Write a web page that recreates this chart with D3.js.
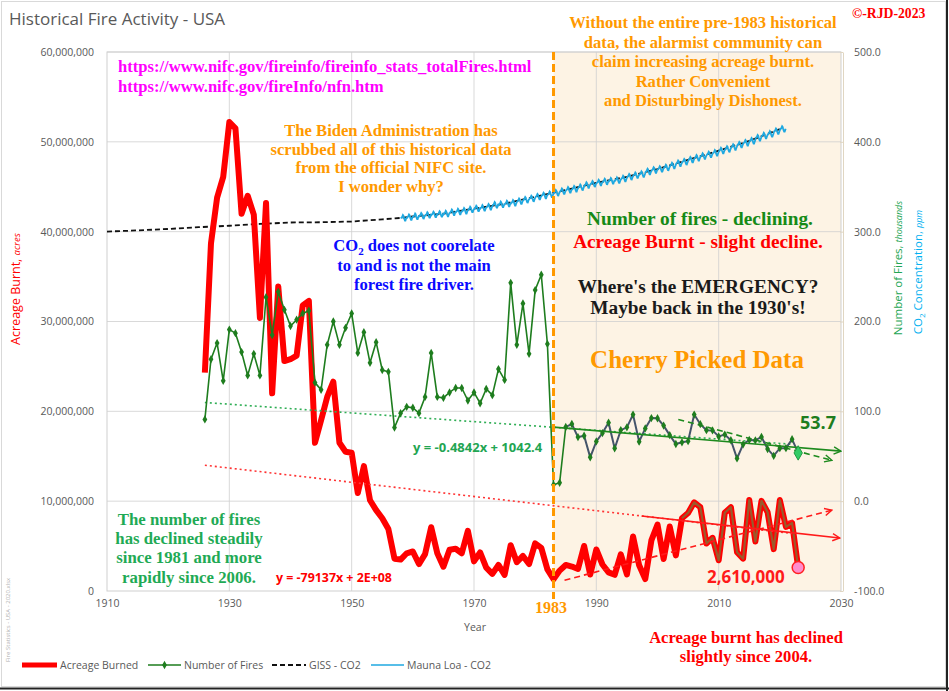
<!DOCTYPE html>
<meta charset="utf-8">
<head>
<style>
  body { margin: 0; background: #fff; }
  svg text { font-family: "Open Sans", "Noto Sans", sans-serif; }
  .tick text { fill: #595959; font-size: 10.5px; }
  .serif { font-family: "Liberation Serif", "Times New Roman", serif !important; font-weight: bold; }
</style>
</head>
<body>
<script src="https://d3js.org/d3.v7.min.js"></script>
<script>

var years = d3.range(1926, 2024);   // 1926 .. 2023

// acreage burned, millions of acres
var acresM = [
  24.3, 38.7, 43.8, 46.1, 52.2, 51.5, 42.0, 44.0, 41.9, 30.4,
  43.2, 22.0, 33.9, 25.6, 25.8, 26.2, 31.8, 32.3, 16.5, 19.0,
  21.6, 23.3, 16.5, 15.5, 15.4, 10.9, 13.9, 10.1, 9.0, 8.1,
  6.9, 3.6, 3.5, 4.2, 4.4, 3.0, 4.1, 7.1, 4.2, 2.7,
  4.6, 4.7, 4.2, 6.7, 3.3, 4.3, 2.6, 1.9, 2.9, 1.8,
  5.1, 3.2, 3.9, 3.0, 5.3, 4.8, 2.4,
  1.32, 2.27, 2.90, 2.72, 2.45, 5.01, 1.83, 4.62, 2.95, 2.07,
  1.80, 4.07, 1.84, 6.07, 2.86, 1.33, 5.63, 7.39, 3.57, 7.18,
  3.96, 8.10, 8.69, 9.87, 9.33, 5.29, 5.92, 3.42, 8.71, 9.33,
  4.32, 3.60, 10.13, 5.51, 10.03, 8.77, 4.66, 10.12, 7.13, 7.58,
  2.61
];

// number of fires, thousands
var firesK = [
  91, 158, 176, 134, 191, 187, 166, 140, 164, 140,
  227, 185, 233, 213, 195, 202, 209, 212, 132, 124,
  174, 200, 174, 193, 209, 165, 188, 154, 177, 146,
  144, 82, 98, 105, 104, 98, 116, 165, 116, 115,
  121, 126, 126, 112, 121, 109, 125, 118, 147, 135,
  243, 174, 220, 164, 235, 252, 175,
  18.2, 20.5, 82.6, 85.9, 71.3, 72.8, 48.9, 66.5, 75.8, 87.4,
  58.8, 79.1, 82.2, 96.4, 66.2, 81.0, 92.5, 92.3, 84.1, 73.5,
  63.6, 65.5, 66.8, 96.4, 85.7, 79.0, 78.8, 72.0, 74.1, 67.8,
  47.6, 63.3, 68.2, 67.7, 71.5, 58.1, 50.5, 59.0, 59.0, 69.0,
  53.7
];

// GISS CO2, ppm
var gissYears = [1910, 1915, 1920, 1925, 1930, 1935, 1940, 1945, 1950, 1955, 1958, 1960,
  1965, 1970, 1975, 1980, 1985, 1990, 1995, 2000, 2005, 2010, 2015, 2020];
var gissCO2 = [300.1, 301.4, 303.0, 305.0, 306.6, 308.6, 310.2, 310.5, 311.3, 313.7, 315.3, 316.9,
  320.0, 325.7, 331.1, 338.8, 346.4, 354.4, 361.0, 369.7, 380.0, 390.1, 401.0, 414.2];

// Mauna Loa CO2: annual means 1958..2020 and mean seasonal offsets (Jan..Dec)
var mlYears = d3.range(1958, 2021);
var mlAnnual = [315.3, 316.0, 316.9, 317.6, 318.5, 319.0, 319.6, 320.0, 321.4, 322.2,
  323.1, 324.6, 325.7, 326.3, 327.5, 329.7, 330.2, 331.1, 332.0, 333.8,
  335.4, 336.8, 338.8, 340.1, 341.5, 343.2, 344.9, 346.4, 347.6, 349.3,
  351.7, 353.2, 354.5, 355.7, 356.5, 357.2, 359.0, 361.0, 362.7, 363.9,
  366.8, 368.5, 369.7, 371.3, 373.5, 376.0, 377.7, 380.0, 382.1, 384.0,
  385.8, 387.6, 390.1, 391.9, 394.1, 396.7, 398.8, 401.0, 404.4, 406.8,
  408.7, 411.7, 414.2];
var mlSeason = [-0.61, 0.31, 0.53, 1.88, 3.22, 2.48, 0.33, -1.49, -2.90, -2.91, -1.17, 0.32];

// trend equations shown on the chart
var fireTrend = {slope: -0.4842, icpt: 1042.4, from: 1926, to: 2022};
var acreTrend = {slope: -79137, icpt: 1.6642e8, from: 1926, to: 2022};

// hand-drawn arrows (year, value)
var fireArrow = [[1983, 82.4], [2030, 55.7]];
var fireArrowDash = [[2003.4, 91], [2028.5, 45.5]];
var acreArrow = [[1997.4, 8.35e6], [2029.8, 5.9e6]];
var acreArrowDash = [[1984.8, 1.2e6], [2028.5, 9.0e6]];

// ---------- layout ----------
var W = 949, H = 691;
var plot = {left: 107, right: 841, top: 52, bottom: 591};

var x = d3.scaleLinear().domain([1910, 2030]).range([plot.left, plot.right]);
var yL = d3.scaleLinear().domain([0, 60e6]).range([plot.bottom, plot.top]);
var yR = d3.scaleLinear().domain([-100, 500]).range([plot.bottom, plot.top]);

var svg = d3.select("body").append("svg")
    .attr("width", W)
    .attr("height", H);

svg.append("rect").attr("width", W).attr("height", H).attr("fill", "#fff");
svg.append("rect")
    .attr("x", 1.5).attr("y", 1.5).attr("width", W - 5).attr("height", H - 6)
    .attr("fill", "none").attr("stroke", "#d9d9d9");
// dark shadow edges
svg.append("line").attr("x1", 0).attr("x2", W).attr("y1", H - 2.5).attr("y2", H - 2.5)
    .attr("stroke", "#222").attr("stroke-width", 2);
svg.append("line").attr("x1", W - 2).attr("x2", W - 2).attr("y1", 0).attr("y2", H)
    .attr("stroke", "#222").attr("stroke-width", 2);

var defs = svg.append("defs");
function arrowMarker(id, color) {
  defs.append("marker")
      .attr("id", id)
      .attr("viewBox", "0 0 10 10")
      .attr("refX", 9).attr("refY", 5)
      .attr("markerWidth", 9).attr("markerHeight", 9)
      .attr("markerUnits", "userSpaceOnUse")
      .attr("orient", "auto")
    .append("path")
      .attr("d", "M1,1 L9,5 L1,9")
      .attr("fill", "none")
      .attr("stroke", color)
      .attr("stroke-width", 1.6);
}
arrowMarker("arrGreen", "#1e8a1e");
arrowMarker("arrRed", "#ff1a1a");

// shaded post-1983 region
svg.append("rect")
    .attr("x", x(1983)).attr("y", plot.top)
    .attr("width", x(2030) - x(1983)).attr("height", plot.bottom - plot.top)
    .attr("fill", "#fdf3e4");

// gridlines
var grid = svg.append("g").attr("stroke", "#d0d0d0").attr("stroke-opacity", 0.8);
d3.range(10e6, 60e6 + 1, 10e6).forEach(function(v) {
  grid.append("line").attr("x1", plot.left).attr("x2", plot.right)
      .attr("y1", yL(v)).attr("y2", yL(v));
});
[1930, 1950, 1970, 1990, 2010].forEach(function(v) {
  grid.append("line").attr("y1", plot.top).attr("y2", plot.bottom)
      .attr("x1", x(v)).attr("x2", x(v));
});
svg.append("rect")
    .attr("x", plot.left).attr("y", plot.top)
    .attr("width", plot.right - plot.left).attr("height", plot.bottom - plot.top)
    .attr("fill", "none").attr("stroke", "#cfcfcf");

// axes
var axL = svg.append("g")
    .attr("transform", "translate(" + plot.left + ",0)")
    .call(d3.axisLeft(yL).tickValues(d3.range(0, 60e6 + 1, 10e6))
      .tickFormat(d3.format(",")).tickSize(0).tickPadding(13));
axL.select(".domain").remove();

var axR = svg.append("g")
    .attr("transform", "translate(" + (plot.right + 2) + ",0)")
    .call(d3.axisRight(yR).tickValues(d3.range(-100, 501, 100))
      .tickFormat(function(d) { return d.toFixed(1); }).tickSizeInner(-3).tickSizeOuter(0).tickPadding(11));
axR.select(".domain").attr("stroke", "#e0d6c2");
axR.selectAll(".tick line").attr("stroke", "#e0d6c2");

var axB = svg.append("g")
    .attr("transform", "translate(0," + plot.bottom + ")")
    .call(d3.axisBottom(x).tickValues([1910, 1930, 1950, 1970, 1990, 2010, 2030])
      .tickFormat(d3.format("d")).tickSize(0).tickPadding(9));
axB.select(".domain").remove();

svg.append("text")
    .attr("x", 475).attr("y", 631)
    .attr("text-anchor", "middle")
    .attr("fill", "#595959").attr("font-size", 10.5)
    .text("Year");

// ---------- series ----------
// GISS CO2
svg.append("path")
    .datum(gissYears.map(function(d, i) { return [d, gissCO2[i]]; }))
    .attr("fill", "none").attr("stroke", "#111").attr("stroke-width", 1.8)
    .attr("stroke-dasharray", "5,3")
    .attr("d", d3.line().x(function(d) { return x(d[0]); }).y(function(d) { return yR(d[1]); }));

// Mauna Loa CO2, monthly
var mlPts = [];
mlYears.forEach(function(yr, i) {
  mlSeason.forEach(function(s, m) {
    mlPts.push([yr + (m + 0.5) / 12, mlAnnual[i] + s]);
  });
});
svg.append("path")
    .datum(mlPts)
    .attr("fill", "none").attr("stroke", "#1fa8e0").attr("stroke-width", 1.8)
    .attr("d", d3.line().x(function(d) { return x(d[0]); }).y(function(d) { return yR(d[1]); }));

// Acreage burned
var acreData = years.map(function(d, i) { return {year: d, v: acresM[i] * 1e6}; });
var acreLine = d3.line().x(function(d) { return x(d.year); }).y(function(d) { return yL(d.v); });
svg.append("path")
    .datum(acreData)
    .attr("fill", "none").attr("stroke", "#ff0000").attr("stroke-width", 6)
    .attr("stroke-linejoin", "round")
    .attr("d", acreLine);
svg.append("path")
    .datum(acreData.filter(function(d) { return d.year >= 2004; }))
    .attr("fill", "none").attr("stroke", "#9a5a2c").attr("stroke-width", 2.2)
    .attr("stroke-linejoin", "round")
    .attr("d", acreLine);

// trend lines (dotted)
function trendPts(t) { return [t.from, t.to].map(function(yr) { return [yr, t.slope * yr + t.icpt]; }); }
svg.append("path")
    .datum(trendPts(acreTrend))
    .attr("fill", "none").attr("stroke", "#ff3333").attr("stroke-width", 1.6)
    .attr("stroke-dasharray", "2,3")
    .attr("d", d3.line().x(function(d) { return x(d[0]); }).y(function(d) { return yL(d[1]); }));
svg.append("path")
    .datum(trendPts(fireTrend))
    .attr("fill", "none").attr("stroke", "#2fae55").attr("stroke-width", 1.6)
    .attr("stroke-dasharray", "2,3")
    .attr("d", d3.line().x(function(d) { return x(d[0]); }).y(function(d) { return yR(d[1]); }));

// Number of fires
var fireData = years.map(function(d, i) { return {year: d, v: firesK[i]}; });
var fireLine = d3.line().x(function(d) { return x(d.year); }).y(function(d) { return yR(d.v); });
svg.append("path")
    .datum(fireData.filter(function(d) { return d.year <= 1985; }))
    .attr("fill", "none").attr("stroke", "#1e7d1e").attr("stroke-width", 1.6)
    .attr("d", fireLine);
svg.append("path")
    .datum(fireData.filter(function(d) { return d.year >= 1985; }))
    .attr("fill", "none").attr("stroke", "#44546a").attr("stroke-width", 2)
    .attr("d", fireLine);

// arrows
function arrow(pts, yS, color, marker, dash) {
  svg.append("path")
      .datum(pts)
      .attr("fill", "none").attr("stroke", color).attr("stroke-width", 1.6)
      .attr("stroke-dasharray", dash || null)
      .attr("marker-end", "url(#" + marker + ")")
      .attr("d", d3.line().x(function(d) { return x(d[0]); }).y(function(d) { return yS(d[1]); }));
}
arrow(fireArrow, yR, "#1e8a1e", "arrGreen");
arrow(fireArrowDash, yR, "#1e8a1e", "arrGreen", "6,4");
arrow(acreArrow, yL, "#ff1a1a", "arrRed");
arrow(acreArrowDash, yL, "#ff1a1a", "arrRed", "6,4");

svg.selectAll(".fireDot")
    .data(fireData.filter(function(d) { return d.year < 2023; }))
    .enter().append("path")
    .attr("class", "fireDot")
    .attr("transform", function(d) { return "translate(" + x(d.year) + "," + yR(d.v) + ")"; })
    .attr("d", d3.symbol().type(d3.symbolDiamond).size(20))
    .attr("fill", "#1e7d1e");

// 2023 highlights
var last = years.length - 1;
svg.append("path")
    .attr("transform", "translate(" + x(years[last]) + "," + yR(firesK[last]) + ")")
    .attr("d", d3.symbol().type(d3.symbolDiamond).size(60))
    .attr("fill", "#33cc66").attr("stroke", "#1e9a40");
svg.append("circle")
    .attr("cx", x(years[last])).attr("cy", yL(acresM[last] * 1e6)).attr("r", 6)
    .attr("fill", "#ff8ccc").attr("stroke", "#ff2020").attr("stroke-width", 1.5);

// 1983 divider
svg.append("line")
    .attr("x1", x(1983)).attr("x2", x(1983))
    .attr("y1", plot.top).attr("y2", plot.bottom + 8)
    .attr("stroke", "#ff9900").attr("stroke-width", 3)
    .attr("stroke-dasharray", "8,4");

// ---------- texts ----------
function block(lines, cx, y0, dy, size, color, anchor, serif) {
  var t = svg.append("text")
      .attr("text-anchor", anchor || "middle")
      .attr("font-size", size)
      .attr("fill", color);
  if (serif !== false) t.attr("class", "serif");
  lines.forEach(function(s, i) {
    t.append("tspan").attr("x", cx).attr("y", y0 + i * dy).text(s);
  });
  return t;
}

svg.append("text")
    .attr("x", 9).attr("y", 25)
    .attr("fill", "#595959").attr("font-size", 17)
    .text("Historical Fire Activity - USA");

block(["©-RJD-2023"], 852, 18, 0, 13.7, "#ff0000", "start");

block(["https://www.nifc.gov/fireinfo/fireinfo_stats_totalFires.html",
       "https://www.nifc.gov/fireInfo/nfn.htm"], 118, 72, 20, 16.6, "#ff00ff", "start");

block(["The Biden Administration has", "scrubbed all of this historical data",
       "from the official NIFC site.", "I wonder why?"], 391, 136, 18.7, 16.6, "#ff9900");

block(["Without the entire pre-1983 historical", "data, the alarmist community can",
       "claim increasing acreage burnt.", "Rather Convenient",
       "and Disturbingly Dishonest."], 703, 28, 19.5, 16.6, "#ff9900");

var co2 = svg.append("text").attr("class", "serif").attr("text-anchor", "middle")
    .attr("font-size", 16.6).attr("fill", "#0a0aff");
var l1 = co2.append("tspan").attr("x", 414).attr("y", 251);
l1.append("tspan").text("CO");
l1.append("tspan").attr("font-size", 11).attr("dy", 4).text("2");
l1.append("tspan").attr("dy", -4).text(" does not coorelate");
co2.append("tspan").attr("x", 414).attr("y", 271).text("to and is not the main");
co2.append("tspan").attr("x", 414).attr("y", 290).text("forest fire driver.");

block(["Number of fires - declining."], 700, 225, 0, 19.3, "#168a16");
block(["Acreage Burnt - slight decline."], 698, 248, 0, 19.3, "#ff0000");
block(["Where's the EMERGENCY?", "Maybe back in the 1930's!"], 698, 293, 21, 19.3, "#1a1a1a");
block(["Cherry Picked Data"], 697, 368, 0, 25, "#ff9900");

block(["53.7"], 800, 429, 0, 18, "#1e7d1e", "start", false).attr("font-weight", "bold");
block(["y = -0.4842x + 1042.4"], 413, 452, 0, 13, "#22a552", "start", false).attr("font-weight", "bold");
block(["y = -79137x + 2E+08"], 276, 582, 0, 12.4, "#ff0000", "start", false).attr("font-weight", "bold");
block(["2,610,000"], 707, 583, 0, 17, "#ff1a1a", "start", false).attr("font-weight", "bold");

block(["The number of fires", "has declined steadily", "since 1981 and more",
       "rapidly since 2006."], 189, 525, 19.2, 16.8, "#1faa55");

block(["1983"], 551, 613, 0, 16, "#ff9900");
block(["Acreage burnt has declined", "slightly since 2004."], 746, 643, 19, 16.6, "#ff0000");

// axis titles
var tl = svg.append("text")
    .attr("transform", "translate(20,289) rotate(-90)")
    .attr("text-anchor", "middle").attr("fill", "#ff0000").attr("font-size", 12.5);
tl.append("tspan").text("Acreage Burnt, ");
tl.append("tspan").attr("font-style", "italic").attr("font-size", 9.5).text("acres");

var tr1 = svg.append("text")
    .attr("transform", "translate(902,268) rotate(-90)")
    .attr("text-anchor", "middle").attr("fill", "#22a552").attr("font-size", 11.5);
tr1.append("tspan").text("Number of Fires, ");
tr1.append("tspan").attr("font-style", "italic").attr("font-size", 9).text("thousands");

var tr2 = svg.append("text")
    .attr("transform", "translate(922,272) rotate(-90)")
    .attr("text-anchor", "middle").attr("fill", "#00b0f0").attr("font-size", 11.5);
tr2.append("tspan").text("CO");
tr2.append("tspan").attr("font-size", 8).attr("dy", 3).text("2");
tr2.append("tspan").attr("dy", -3).text(" Concentration, ");
tr2.append("tspan").attr("font-style", "italic").attr("font-size", 9).text("ppm");

svg.append("text")
    .attr("transform", "translate(10,662) rotate(-90)")
    .attr("fill", "#b0b0b0").attr("font-size", 6)
    .text("Fire Statistics - USA - 2020.xlsx");

// ---------- legend ----------
var lg = svg.append("g").attr("transform", "translate(0,665)");
lg.append("line").attr("x1", 22).attr("x2", 57).attr("stroke", "#ff0000").attr("stroke-width", 5);
lg.append("line").attr("x1", 148).attr("x2", 181).attr("stroke", "#1e7d1e").attr("stroke-width", 1.6);
lg.append("path").attr("transform", "translate(164.5,0)")
    .attr("d", d3.symbol().type(d3.symbolDiamond).size(20)).attr("fill", "#1e7d1e");
lg.append("line").attr("x1", 272).attr("x2", 306).attr("stroke", "#111").attr("stroke-width", 1.8)
    .attr("stroke-dasharray", "5,3");
lg.append("line").attr("x1", 371).attr("x2", 404).attr("stroke", "#1fa8e0").attr("stroke-width", 1.6);
[["Acreage Burned", 60], ["Number of Fires", 184], ["GISS - CO2", 309], ["Mauna Loa - CO2", 407]]
  .forEach(function(d) {
    lg.append("text").attr("x", d[1]).attr("y", 4)
        .attr("fill", "#595959").attr("font-size", 10.5).text(d[0]);
  });

</script>
</body>
